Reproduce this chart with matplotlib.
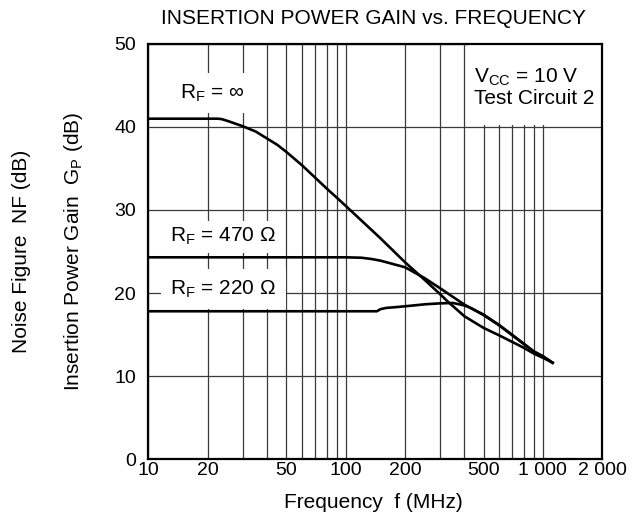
import matplotlib
matplotlib.use("Agg")
import matplotlib.pyplot as plt
from matplotlib.patches import Rectangle
from matplotlib.ticker import FixedLocator, NullFormatter

plt.rcParams['font.family'] = ['Liberation Sans', 'DejaVu Sans']
plt.rcParams['mathtext.fontset'] = 'custom'
plt.rcParams['mathtext.rm'] = 'Liberation Sans'

# curve readings (frequency in MHz, gain in dB)
f_inf = [10, 20, 22.4, 23.5, 25.4, 30, 35, 40, 45, 50, 60, 70, 80, 90, 100, 150, 200, 251,
         300, 330, 400, 500, 600, 700, 800, 900, 1000, 1120]
gp_inf = [41.0, 41.0, 41.0, 40.95, 40.7, 40.1, 39.45, 38.6, 37.85, 37.0, 35.4, 33.9, 32.6,
          31.5, 30.5, 26.6, 23.7, 21.6, 19.9, 18.95, 17.2, 15.8, 14.9, 14.1, 13.4, 12.7,
          12.2, 11.6]

f_470 = [10, 100, 120, 135, 150, 200, 251, 300, 400, 430, 500, 600, 700, 800, 900, 1000, 1120]
gp_470 = [24.3, 24.3, 24.25, 24.1, 23.9, 23.1, 21.8, 20.6, 18.6, 18.2, 17.4, 16.15, 14.95,
          13.9, 12.95, 12.4, 11.6]

f_220 = [10, 100, 144, 150, 160, 180, 200, 255, 300, 350, 400, 430, 500, 600, 700, 800,
         900, 1000, 1120]
gp_220 = [17.8, 17.8, 17.8, 18.05, 18.2, 18.3, 18.4, 18.65, 18.75, 18.8, 18.5, 18.2, 17.35,
          16.1, 14.9, 13.85, 12.95, 12.35, 11.6]

x_major = [10, 20, 50, 100, 200, 500, 1000, 2000]
x_labels = ['10', '20', '50', '100', '200', '500', '1 000', '2 000']
x_minor = [30, 40, 60, 70, 80, 90, 300, 400, 600, 700, 800, 900]
y_ticks = [0, 10, 20, 30, 40, 50]

fig = plt.figure(figsize=(6.4, 5.25), dpi=100)
ax = fig.add_axes([0.232, 0.1257, 0.709, 0.7905])

ax.set_xscale('log')
ax.set_xlim(10, 2000)
ax.set_ylim(0, 50)
ax.xaxis.set_major_locator(FixedLocator(x_major))
ax.xaxis.set_minor_locator(FixedLocator(x_minor))
ax.xaxis.set_minor_formatter(NullFormatter())
ax.set_xticklabels(x_labels)
ax.set_yticks(y_ticks)
ax.tick_params(axis='both', which='both', length=0, labelsize=14)
ax.tick_params(axis='x', pad=2)
ax.tick_params(axis='y', pad=9)
ax.grid(True, which='both', color='#3a3a3a', lw=0.9)
for sp in ax.spines.values():
    sp.set_linewidth(1.6)

ax.plot(f_inf, gp_inf, color='black', lw=1.9, zorder=3)
ax.plot(f_470, gp_470, color='black', lw=1.9, zorder=3)
ax.plot(f_220, gp_220, color='black', lw=1.9, zorder=3)

# white area behind the conditions text
ax.add_patch(Rectangle((420, 40.2), 2000 - 420, 9.8, facecolor='white',
                       edgecolor='none', zorder=1.8))
ax.text(448, 46.0, r'V$_\mathregular{CC}$ = 10 V', fontsize=15, va='center', zorder=4)
ax.text(448, 43.4, 'Test Circuit 2', fontsize=15, va='center', zorder=4)

box = dict(boxstyle='square,pad=0.45', facecolor='white', edgecolor='none')
box_small = dict(boxstyle='square,pad=0.25', facecolor='white', edgecolor='none')
ax.text(14.5, 44.1, r'R$_\mathregular{F}$ = ∞', fontsize=15, va='center', bbox=box, zorder=4)
ax.text(12.9, 26.8, r'R$_\mathregular{F}$ = 470 Ω', fontsize=15, va='center',
        bbox=box_small, zorder=4)
ax.text(12.9, 20.5, r'R$_\mathregular{F}$ = 220 Ω', fontsize=15, va='center', bbox=box, zorder=4)

fig.text(0.584, 1 - 18 / 525, 'INSERTION POWER GAIN vs. FREQUENCY', fontsize=15,
         ha='center', va='center')
fig.text(0.584, 1 - 508 / 525, 'Frequency  f (MHz)', fontsize=15, ha='center', va='baseline')
fig.text(22 / 640, 0.521, 'Noise Figure  NF (dB)', fontsize=15, rotation=90,
         ha='center', va='center')
fig.text(74 / 640, 0.521, r'Insertion Power Gain  G$_\mathregular{P}$ (dB)', fontsize=15,
         rotation=90, ha='center', va='center')

fig.savefig('out.png', dpi=100)
